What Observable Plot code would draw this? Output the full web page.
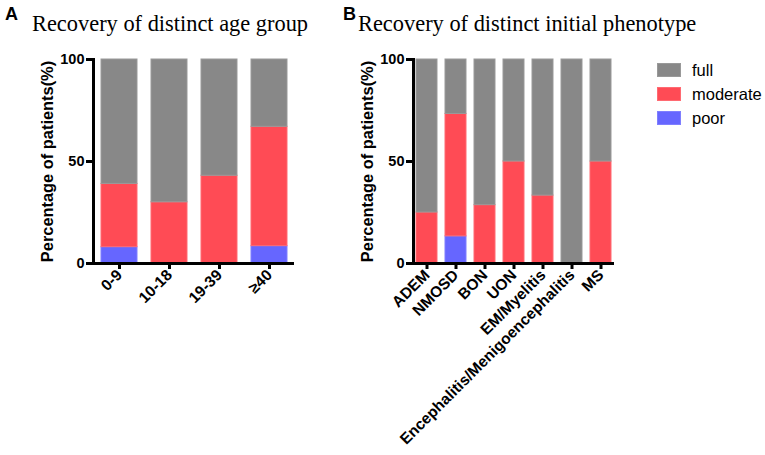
<!DOCTYPE html>
<html>
<head>
<meta charset="utf-8">
<script src="https://cdn.jsdelivr.net/npm/d3@7"></script>
<script src="https://cdn.jsdelivr.net/npm/@observablehq/plot@0.6"></script>
<style>
  html, body { margin: 0; padding: 0; background: #fff; }
  #wrap { position: relative; width: 765px; height: 455px; overflow: hidden; font-family: "Liberation Sans", Arial, sans-serif; }
  .panel { position: absolute; top: 40px; }
  .letter { position: absolute; font: bold 18px/1 "Liberation Sans", Arial, sans-serif; }
  .title { position: absolute; font: 22.4px/1 "Liberation Serif", "Times New Roman", serif; white-space: nowrap; }
  .leg { position: absolute; left: 657px; display: flex; align-items: center; font: 16.5px/1 "Liberation Sans", Arial, sans-serif; }
  .sw { width: 24px; height: 14px; margin-right: 11px; box-sizing: border-box; }
</style>
</head>
<body>
<div id="wrap">
  <div class="letter" style="left:5px;top:5px">A</div>
  <div class="title" style="left:32px;top:13.4px">Recovery of distinct age group</div>
  <div class="letter" style="left:343px;top:5px">B</div>
  <div class="title" style="left:358px;top:13.4px">Recovery of distinct initial phenotype</div>
  <div id="pa" class="panel" style="left:0px"></div>
  <div id="pb" class="panel" style="left:320px"></div>
</div>
<script>
// ---- data ----
const series = ["poor", "moderate", "full"];
const seriesFill = ["#6666ff", "#ff4b55", "#888888"];
const seriesStroke = ["#7f7fff", "#ff6a72", "#999999"];
const legendOrder = ["full", "moderate", "poor"];

const ageGroups = ["0-9", "10-18", "19-39", "≥40"];
const agePoor = [8, 0, 0, 8.5];
const ageModerate = [31, 30, 43, 58.5];
const ageFull = [61, 70, 57, 33];

const phenotypes = ["ADEM", "NMOSD", "BON", "UON", "EM/Myelitis", "Encephalitis/Menigoencephalitis", "MS"];
const phenoPoor = [0, 13.3, 0, 0, 0, 0, 0];
const phenoModerate = [25, 60, 28.6, 50, 33.3, 0, 50];
const phenoFull = [75, 26.7, 71.4, 50, 66.7, 100, 50];

const yTicks = [0, 50, 100];
const yLabel = "Percentage of patients(%)";

function toRows(cats, poor, moderate, full) {
  const rows = [];
  const vals = {poor, moderate, full};
  for (const s of series) {
    cats.forEach((c, i) => {
      if (vals[s][i] > 0) rows.push({cat: c, series: s, value: vals[s][i]});
    });
  }
  return rows;
}

function panel(cats, rows, paddingInner, paddingOuter) {
  const fillOf = s => seriesFill[series.indexOf(s)];
  const strokeOf = s => seriesStroke[series.indexOf(s)];
  return Plot.plot({
    width: 310,
    height: 415,
    marginTop: 19,
    marginBottom: 192,
    marginLeft: 93,
    marginRight: 16,
    style: {fontFamily: "'Liberation Sans', Arial, sans-serif", fontSize: "14px", color: "black", background: "transparent", overflow: "visible"},
    x: {domain: cats, paddingInner, paddingOuter},
    y: {domain: [0, 100]},
    color: {type: "identity"},
    marks: [
      Plot.barY(rows, Plot.stackY({
        x: "cat", y: "value", z: "series",
        fill: d => fillOf(d.series),
        stroke: d => strokeOf(d.series),
        strokeWidth: 1
      })),
      Plot.frame({anchor: "left", strokeWidth: 3}),
      Plot.ruleY([0], {strokeWidth: 3}),
      Plot.axisY({ticks: yTicks, tickSize: 7, strokeWidth: 3, tickPadding: 2, fontSize: 14.5, fontWeight: "bold", label: null}),
      Plot.axisX({tickSize: 6, strokeWidth: 3, tickPadding: 3, tickRotate: -45, fontSize: 15.5, fontWeight: "bold", label: null}),
      Plot.text([yLabel], {text: d => d, frameAnchor: "left", textAnchor: "middle", rotate: -90, dx: -46, fontSize: 16.4, fontWeight: "bold"})
    ]
  });
}

document.getElementById("pa").appendChild(panel(ageGroups, toRows(ageGroups, agePoor, ageModerate, ageFull), 0.29, 0.12));
document.getElementById("pb").appendChild(panel(phenotypes, toRows(phenotypes, phenoPoor, phenoModerate, phenoFull), 0.28, 0.1));

// legend
const wrap = document.getElementById("wrap");
legendOrder.forEach((s, i) => {
  const row = document.createElement("div");
  row.className = "leg";
  row.style.top = (62 + i * 24) + "px";
  const sw = document.createElement("div");
  sw.className = "sw";
  sw.style.background = seriesFill[series.indexOf(s)];
  sw.style.border = "1px solid " + seriesStroke[series.indexOf(s)];
  const tx = document.createElement("span");
  tx.textContent = s;
  row.appendChild(sw);
  row.appendChild(tx);
  wrap.appendChild(row);
});
</script>
</body>
</html>
